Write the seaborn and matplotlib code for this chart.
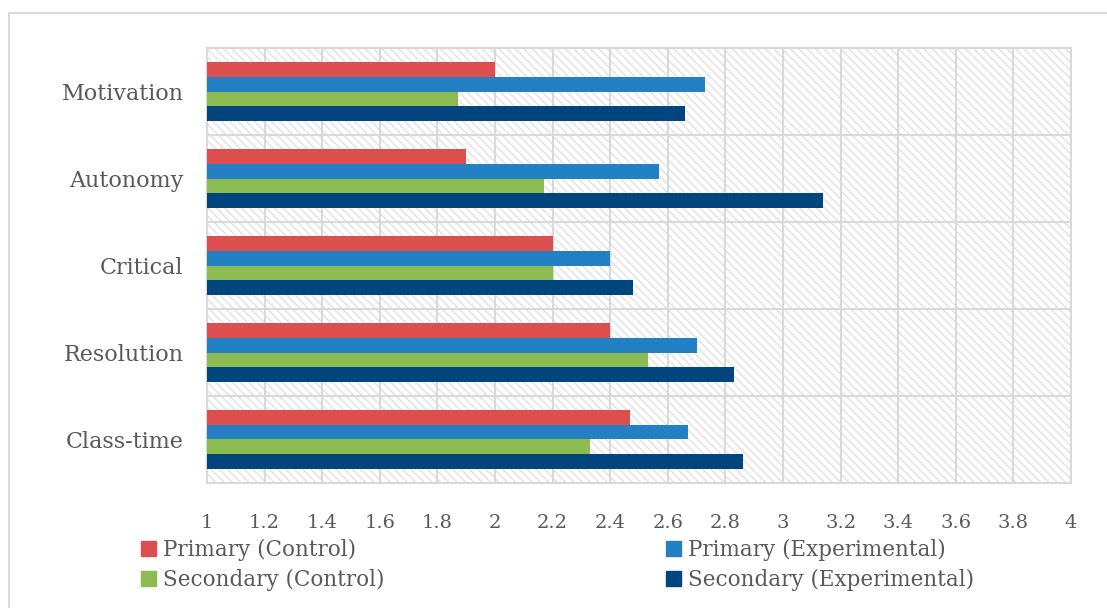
import numpy as np
import pandas as pd
import matplotlib
matplotlib.use("Agg")
import matplotlib.pyplot as plt
import seaborn as sns
from matplotlib.patches import Rectangle, Patch

categories = ["Motivation", "Autonomy", "Critical", "Resolution", "Class-time"]
series = ["Primary (Control)", "Primary (Experimental)",
          "Secondary (Control)", "Secondary (Experimental)"]
primary_control = [2.0, 1.9, 2.2, 2.4, 2.47]
primary_experimental = [2.73, 2.57, 2.4, 2.7, 2.67]
secondary_control = [1.87, 2.17, 2.2, 2.53, 2.33]
secondary_experimental = [2.66, 3.14, 2.48, 2.83, 2.86]
x_ticks = [1, 1.2, 1.4, 1.6, 1.8, 2, 2.2, 2.4, 2.6, 2.8, 3, 3.2, 3.4, 3.6, 3.8, 4]

colors = ["#DC4F4E", "#2380C3", "#8BBB51", "#00457E"]
grid_c = "#D9D9D9"
text_c = "#595959"

rows = []
for name, vals in zip(series, [primary_control, primary_experimental,
                               secondary_control, secondary_experimental]):
    for cat, v in zip(categories, vals):
        rows.append({"category": cat, "series": name, "value": v})
df = pd.DataFrame(rows)

sns.set_style("white")
plt.rcParams["font.family"] = ["DejaVu Serif"]
plt.rcParams["hatch.linewidth"] = 1.0

fig = plt.figure(figsize=(11.07, 6.08), dpi=100)
ax = fig.add_axes([0.187, 0.2056, 0.9675 - 0.187, 0.921 - 0.2056])

# hatched plot background
ax.patch.set_facecolor("white")
ax.patch.set_hatch("\\\\\\\\")
ax.patch.set_edgecolor("#E2E2E2")
ax.patch.set_linewidth(0)

sns.barplot(data=df, x="value", y="category", hue="series", orient="h",
            order=categories, hue_order=series, palette=colors, saturation=1,
            width=0.68, linewidth=0, legend=False, ax=ax, zorder=3)

ax.set_xlim(1, 4)
ax.set_xticks(x_ticks)
ax.set_xticklabels([f"{t:g}" for t in x_ticks])
ax.set_yticks(np.arange(-0.5, len(categories) + 0.5, 1), minor=True)
ax.grid(axis="x", which="major", color=grid_c, lw=1.5, zorder=1)
ax.grid(axis="y", which="minor", color=grid_c, lw=1.5, zorder=1)
ax.set_axisbelow(True)
ax.tick_params(axis="both", which="both", length=0, colors=text_c)
ax.tick_params(axis="y", pad=17, labelsize=16)
ax.tick_params(axis="x", pad=22, labelsize=14)
ax.set_xlabel("")
ax.set_ylabel("")
for s in ax.spines.values():
    s.set_color(grid_c)
    s.set_linewidth(1.5)

# outer chart frame
fig.patches.append(Rectangle((9 / 1107, -0.05), 1.2, 1 - 13 / 608 + 0.05,
                             transform=fig.transFigure, fill=False,
                             edgecolor=grid_c, lw=1.5, clip_on=False))

handles = [Patch(color=colors[0]), Patch(color=colors[2]),
           Patch(color=colors[1]), Patch(color=colors[3])]
labels = [series[0], series[2], series[1], series[3]]
leg = fig.legend(handles, labels, ncol=2, loc="upper left",
                 bbox_to_anchor=(0.1274, 0.113), frameon=False,
                 fontsize=15.5, handlelength=0.7, handleheight=0.7,
                 handletextpad=0.3, columnspacing=13.1, labelspacing=0.35,
                 borderaxespad=0, borderpad=0)
for t in leg.get_texts():
    t.set_color(text_c)

fig.savefig("out.png", dpi=100)
